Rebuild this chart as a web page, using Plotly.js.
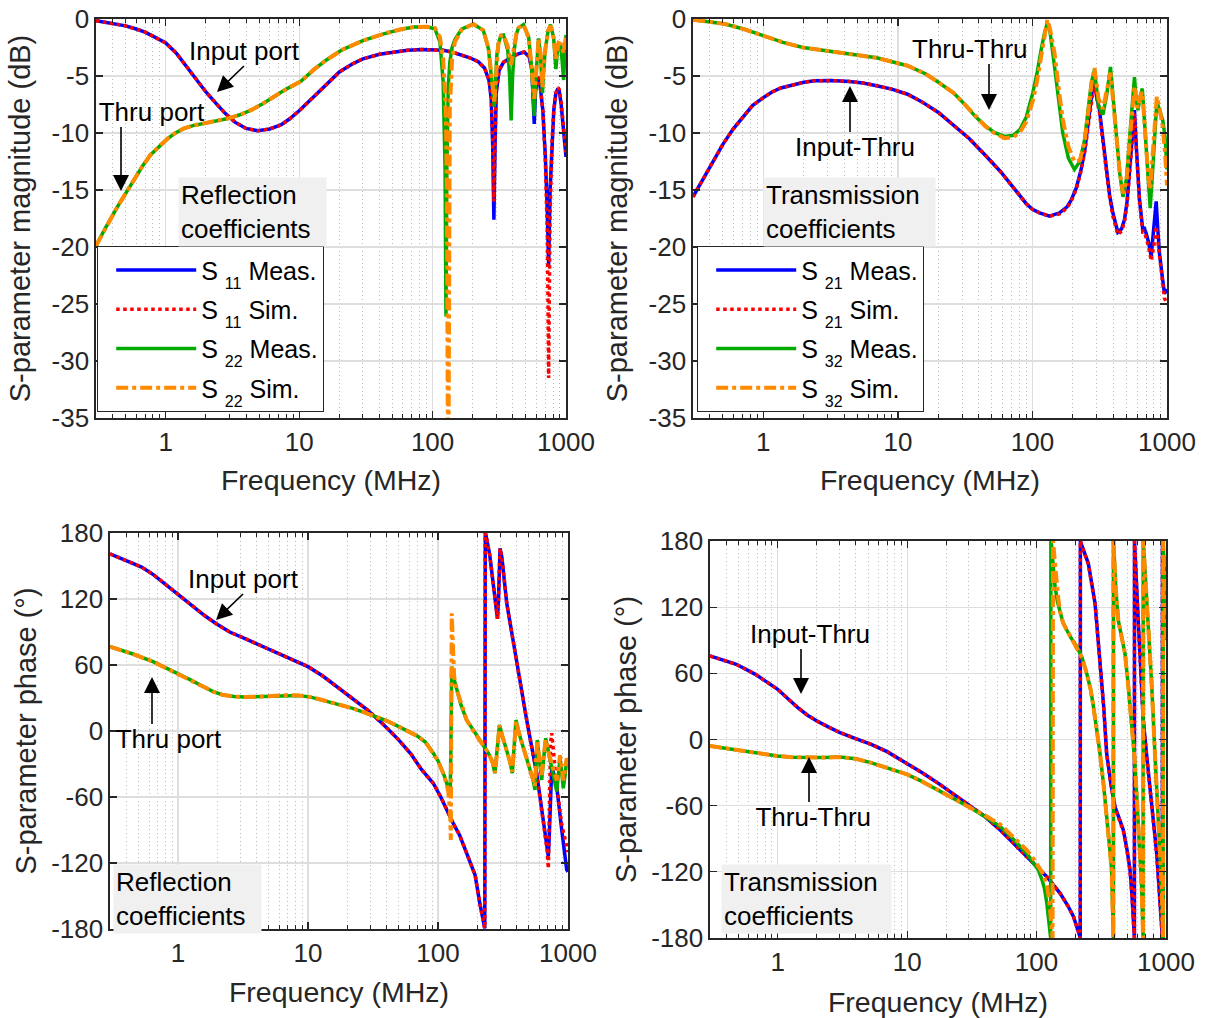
<!DOCTYPE html>
<html>
<head>
<meta charset="utf-8">
<script src="https://cdn.plot.ly/plotly-3.0.1.min.js"></script>
<style>
  html, body { margin: 0; padding: 0; background: #fff; }
  #chart { width: 1205px; height: 1018px; }
</style>
</head>
<body>
<div id="chart"></div>
<script>
// ---------- Data: frequency in MHz, magnitude in dB, phase in degrees ----------

// Reflection magnitude
const fMag11 = [0.3,0.4,0.5,0.6,0.7,0.8,1,1.2,1.4,1.6, 1.8,2,2.4,2.8,3.3,4,4.9,6,7.3,8.5, 10,12,14,17,20,25,30,40,52,65, 83,100,120,140,160,190,220,245,265,275, 282,288,294,300,315,340,385,440,485,530, 555,568,578,590,605,623,645,670,700,725, 741,760,785,810,840,870,890,920,950,975, 1000];
const s11MagMeas = [-0.15,-0.4,-0.6,-0.88,-1.15,-1.5,-2.1,-3.0,-4.05,-4.95, -5.8,-6.4,-7.45,-8.3,-9.05,-9.6,-9.8,-9.65,-9.3,-8.75, -8.05,-7.2,-6.4,-5.45,-4.65,-3.95,-3.5,-3.1,-2.87,-2.75, -2.68,-2.68,-2.75,-2.9,-3.1,-3.4,-3.75,-4.3,-5.4,-7.0, -11.0,-17.6,-11.0,-6.5,-4.5,-3.8,-3.4,-3.05,-2.9,-3.3, -4.5,-6.5,-9.2,-6.5,-5.4,-5.1,-6.2,-8.0,-12.0,-17.0, -21.7,-15.0,-10.5,-8.0,-6.5,-6.1,-6.3,-7.5,-9.3,-10.8, -12.1];
const s11MagSim = [-0.15,-0.4,-0.6,-0.88,-1.15,-1.5,-2.1,-3.0,-4.05,-4.95, -5.8,-6.4,-7.45,-8.3,-9.05,-9.6,-9.8,-9.65,-9.3,-8.75, -8.05,-7.2,-6.4,-5.45,-4.65,-3.95,-3.5,-3.1,-2.87,-2.75, -2.68,-2.68,-2.75,-2.9,-3.1,-3.4,-3.75,-4.3,-5.3,-6.8, -10.5,-16.0,-10.5,-6.4,-4.5,-3.8,-3.4,-3.05,-2.9,-3.3, -4.4,-6.0,-7.2,-6.0,-5.3,-5.1,-6.2,-8.0,-12.5,-19.0, -31.5,-17.0,-10.8,-8.0,-6.5,-6.0,-6.2,-7.3,-9.0,-10.5, -11.7];

const fMag22 = [0.3,0.35,0.433,0.5,0.578,0.67,0.771,0.9,1.03,1.2, 1.37,1.6,1.83,2.3,2.99,3.6,4.35,5.3,6.5,8, 10.35,13,16,21,30,43,58,73,90,104, 113.5,120,124,126,128,131,134.6,140,147,165, 202,240,262,275,284,290,296,303,311,325, 340,366,378,388,398,409,425,440,480,525, 553,568,578,588,598,623,645,660,667,675, 698,735,765,807,825,840,860,880,917,940, 960,980,1000];
const s22MagMeas = [-19.9,-18.4,-16.5,-15.3,-14.1,-12.9,-11.9,-11.1,-10.5,-9.95, -9.6,-9.35,-9.2,-9.0,-8.7,-8.4,-8.0,-7.45,-6.8,-6.15, -5.45,-4.4,-3.6,-2.7,-1.9,-1.3,-0.9,-0.7,-0.68,-0.85, -2.0,-5.5,-13.0,-26.1,-13.0,-6.0,-3.8,-2.5,-1.8,-0.9, -0.44,-1.0,-2.6,-4.6,-6.5,-7.7,-5.5,-3.2,-2.2,-1.45, -1.4,-2.75,-5.0,-8.9,-5.0,-2.75,-1.3,-0.8,-0.5,-1.6, -4.4,-6.5,-8.5,-6.0,-4.4,-1.7,-3.3,-5.2,-6.5,-5.0, -2.75,-1.0,-0.5,-1.6,-2.8,-4.4,-3.0,-2.1,-2.4,-3.8, -5.35,-3.0,-1.4];
const s22MagSim = [-19.9,-18.4,-16.5,-15.3,-14.1,-12.9,-11.9,-11.1,-10.5,-9.95, -9.6,-9.35,-9.2,-9.0,-8.7,-8.4,-8.0,-7.45,-6.8,-6.15, -5.45,-4.4,-3.6,-2.7,-1.9,-1.3,-0.9,-0.7,-0.68,-0.8, -1.6,-3.5,-6.5,-9.0,-15.0,-45.0,-8.0,-3.5,-2.0,-0.95, -0.44,-1.0,-2.5,-4.4,-6.2,-7.4,-5.5,-3.2,-2.2,-1.45, -1.4,-2.4,-3.4,-4.0,-3.2,-2.2,-1.3,-0.8,-0.5,-1.6, -4.0,-5.8,-7.0,-5.5,-4.2,-1.7,-3.1,-4.8,-6.0,-4.8, -2.75,-1.0,-0.6,-1.6,-2.6,-3.5,-2.8,-2.1,-2.2,-2.8, -3.0,-2.2,-1.5];

// Transmission magnitude
const fMag21 = [0.3,0.35,0.428,0.5,0.596,0.7,0.83,1,1.16,1.35, 1.61,2,2.4,3.2,4.36,5.5,6.94,9,11.8,15, 20,26,34,45,58,70,80,90,100,113, 134,159,180,194,212,230,245,258,270,280, 289,300,315,333,353,375,396,431,460,483, 505,526,550,573,590,610,625,661,680,700, 730,763,800,831,855,880,920,958,1000];
const s21MagMeas = [-15.6,-14.2,-12.3,-11.0,-9.65,-8.6,-7.6,-6.9,-6.4,-6.05, -5.8,-5.55,-5.42,-5.4,-5.48,-5.62,-5.85,-6.15,-6.6,-7.25, -8.2,-9.3,-10.5,-12.0,-13.4,-14.6,-15.4,-16.2,-16.7,-17.0, -17.3,-17.0,-16.5,-15.9,-14.8,-13.2,-11.5,-9.4,-7.5,-6.0, -5.35,-6.8,-8.0,-10.5,-13.0,-15.5,-17.0,-18.7,-18.4,-17.6, -16.0,-13.5,-10.5,-8.0,-11.0,-14.5,-15.9,-18.5,-18.4,-18.8, -19.6,-20.8,-18.5,-16.0,-18.5,-20.6,-22.5,-24.1,-23.7];
const s21MagSim = [-15.6,-14.2,-12.3,-11.0,-9.65,-8.6,-7.6,-6.9,-6.4,-6.05, -5.8,-5.55,-5.42,-5.4,-5.48,-5.62,-5.85,-6.15,-6.6,-7.25, -8.2,-9.3,-10.5,-12.0,-13.4,-14.6,-15.4,-16.2,-16.7,-17.0, -17.3,-17.1,-16.6,-16.0,-14.9,-13.3,-11.6,-9.5,-7.6,-6.1, -5.4,-6.9,-8.2,-10.7,-13.2,-15.7,-17.3,-18.9,-18.6,-17.8, -16.2,-13.8,-10.8,-8.3,-11.2,-14.6,-16.0,-18.7,-18.7,-19.2, -20.0,-21.2,-19.8,-18.2,-19.5,-20.8,-22.8,-24.5,-25.0];

const fMag32 = [0.3,0.4,0.52,0.7,1.01,1.4,1.97,3,4.36,6.94, 11.8,16,20,26,32,38,44.5,52,62,72, 80.7,90,100.5,108,116,123,129,135,146,157, 168,185,205,225,244,262,275,289,310,334, 358,380,400,420,445,471,500,526,550,573, 590,608,632,655,680,700,725,750,790,840, 880,931,970,1000];
const s32MagMeas = [-0.06,-0.25,-0.44,-0.85,-1.46,-2.05,-2.5,-2.8,-3.0,-3.4, -4.1,-4.8,-5.55,-6.5,-7.6,-8.6,-9.35,-9.95,-10.3,-10.2, -9.7,-8.6,-6.5,-4.8,-2.7,-1.2,-0.38,-1.1,-4.2,-7.5, -10.0,-12.2,-13.2,-12.5,-10.6,-7.5,-5.5,-4.5,-7.6,-8.4, -6.5,-4.2,-7.0,-10.0,-13.5,-15.6,-14.0,-10.6,-7.5,-5.1, -7.0,-8.0,-6.8,-6.1,-9.0,-11.5,-14.5,-16.6,-12.5,-7.25, -8.0,-8.9,-10.5,-13.2];
const s32MagSim = [-0.06,-0.25,-0.44,-0.85,-1.46,-2.05,-2.5,-2.8,-3.0,-3.4, -4.1,-4.8,-5.55,-6.5,-7.6,-8.6,-9.4,-10.0,-10.45,-10.35, -9.95,-9.0,-7.2,-5.5,-3.2,-1.4,-0.05,-0.9,-3.0,-6.2, -8.8,-11.2,-12.5,-12.4,-10.8,-7.8,-5.6,-4.3,-7.0,-7.9, -6.0,-4.7,-7.5,-10.2,-13.4,-15.3,-14.2,-11.0,-7.9,-5.9, -7.2,-7.8,-6.8,-6.4,-9.0,-11.3,-13.8,-15.0,-11.0,-6.8, -7.8,-9.5,-12.0,-14.6];

// Reflection phase
const fPh11 = [0.3,0.4,0.525,0.65,0.79,1,1.27,1.6,1.97,2.5, 3.28,4.3,5.65,7.5,10,13,16.6,22,28.6,38, 49.6,62,74.6,92,105,131,147,166,193,210, 222,229,231,234,250,265,280,287,292,300, 310,338,403,481,574,646,690,706,718,735, 750,780,819,895,977,1000];
const s11PhMeas = [161,155,149,142,134,124,114,105,97.5,90, 84,78,72,65.5,58.5,50,40.4,30,19.3,6, -7.8,-21,-35,-47.5,-60,-84,-95,-111,-131,-157, -170,-179.5,180,178,160,138,112,102,120,166, 158,116,61.5,10,-38.5,-81,-105,-114,-95,-50, -32.5,-40,-50.6,-90,-126,-128];
const s11PhSim = [161,155,149,142,134,124,114,105,97.5,90, 84,78,72,65.5,58.5,50,40.4,30,19.3,6, -7.8,-21,-35,-47.5,-60,-84,-95,-111,-131,-157, -170,-179.5,180,178,160,138,112,102,120,166, 158,116,61.5,10,-38.5,-81,-108,-125,-70,-10, -2,-25,-50,-85,-108,-110];

const fPh22 = [0.3,0.45,0.643,0.8,1,1.25,1.56,1.85,2.19,2.7, 3.28,4.3,5.65,7,8.5,10.5,12.7,16,21.8,27, 32.8,40,49.6,60,69.8,80,88.5,100,112,120, 124,125.5,127.5,133,139,150,166,185,210,244, 262,274,285,297,315,338,356,373,385,398, 420,453,500,540,557,568,580,600,628,650, 674,710,750,785,819,845,867,895,920,950, 977,1000];
const s22PhMeas = [76.6,70,63,57.5,52.5,46.5,40.4,36,33,31.3, 30.8,31.3,32.3,32.6,32.3,30.8,28.4,25.2,20.8,17, 13.3,9.5,4.2,-0.5,-4.8,-10,-17,-27,-41,-52, -60,-20,58.5,47,37.3,24,10,1,-8.2,-20, -28,-38.4,-20,5.5,-6,-17.3,-27,-38.4,-15,10, -2,-14.3,-30,-45,-53.6,-30,-8.2,-25,-44.5,-25, -6.6,-20,-35.5,-45,-55,-40,-25,-38,-52,-40, -26.4,-28];
const s22PhSim = [76.6,70,63,57.5,52.5,46.5,40.4,36,33,31.3, 30.8,31.3,32.3,32.6,32.3,30.8,28.4,25.2,20.8,17, 13.3,9.5,4.2,-0.5,-4.8,-10,-17,-27,-41,-55, -75,-99,107,50,38,25,10,1,-8.2,-20, -28,-38,-20,5,-6,-17.3,-27,-37,-15,9, -2,-14.3,-30,-44,-50,-28,-8.5,-24,-40,-22, -8,-20,-30,-35,-45,-35,-22,-33,-45,-35, -25,-27];

// Transmission phase
const fPh21 = [0.3,0.479,0.673,1,1.2,1.43,1.7,2.01,2.5,3.03, 4,5.23,7,10,13,17.9,23,30.9,40,53.3, 65,80.4,100,120,152,175,193,205,214,217.5, 218,223,251,283,309,330,348,375,404,435, 468,500,527,545,559,570,571,580,593,610, 629,667,710,751,800,847,890,926,938,939, 951,970,1000];
const s21PhMeas = [75.7,68.2,59.1,45.5,37,28.9,22,16.8,11,6.2, 0.8,-4.2,-11,-21.8,-30,-40.7,-50,-60.3,-70,-83, -93,-104,-115,-124.4,-139.5,-151,-160.7,-169,-177,-180, 180,176.4,159.8,123.5,72,30,-12.5,-40,-61,-72, -82,-100,-118,-140,-163.7,-180,180,160,138.6,108, 78,17.7,-15,-42.8,-73,-103,-140,-172.7,-180,180, 169,155,133];
const s21PhSim = [75.7,68.2,59.1,45.5,37,28.9,22,16.8,11,6.2, 0.8,-4.2,-11,-21.8,-30,-40.7,-50,-60.3,-70,-83, -93,-104,-115,-124.4,-139.5,-151,-160.7,-169,-177,-180, 180,176,159,123,71,29,-13,-41,-62,-73, -83,-101,-119,-141,-164,-180,180,159,138,107, 77,17,-16,-43,-74,-104,-141,-173,-180,180, 168,154,132];

const fPh32Meas = [0.3,0.673,1,1.3,1.75,2.3,3.02,4,5.23,7, 10,13,17.9,23,30.9,40,52.4,62,74.8,85, 94.6,103,110,115,120,124,127,128.5,129,131, 135,139,145,152,160,171,185,205,225,244, 262,275,292,309,330,348,365,380,387,391, 392,392.5,395,410,428,455,482,510,543,570, 593,620,648,660,665,667,690,730,775,821, 870,925,945,950,951,970,1000];
const s32PhMeas = [-5.9,-12,-15,-16,-16.5,-16.4,-15.9,-17.5,-21,-25.5, -31.6,-38,-46.7,-53,-61.8,-70,-79,-87,-97,-104, -112,-118,-127,-135,-148.5,-162,-176,-180,180,175, 155,138.6,125,114.4,106,99.3,92,84.2,74,60, 45,29.8,10,-12.5,-42,-67,-95,-118,-150,-176, -180,180,172,135,108,92,78,50,17.7,-15, -49,-90,-133.5,-165,-180,180,150,108,50,-12.5, -70,-133.5,-170,-180,180,140,90];
const fPh32Sim = [0.3,0.673,1,1.3,1.75,2.3,3.02,4,5.23,7, 10,13,17.9,23,30.9,40,52.4,62,74.8,85, 94.6,103,110,115,120,125,129,132,133,134, 137,141,147,152,160,171,185,205,225,244, 262,275,292,309,330,348,365,380,387,391, 392,392.5,395,410,428,455,482,510,543,570, 593,620,648,660,665,667,690,730,775,821, 870,925,945,950,951,970,1000];
const s32PhSim = [-5.9,-12,-15,-16,-16.5,-16.4,-15.9,-17.5,-21,-25.5, -31.6,-38,-46.7,-53,-61.5,-69,-77,-85,-95,-101, -108,-114,-120,-126,-132,-145,-160,-175,-180,180, 165,145,128,116,106,99.3,92,84.2,74,60, 45,29.8,10,-12.5,-42,-67,-95,-118,-150,-176, -180,180,172,135,108,92,78,50,17.7,-15, -49,-90,-133.5,-165,-180,180,150,108,50,-12.5, -70,-133.5,-170,-180,180,140,90];

// Axis ticks
const freqTicks = [1, 10, 100, 1000];
const freqTickText = ['1', '10', '100', '1000'];
const freqMinor = [0.3,0.4,0.5,0.6,0.7,0.8,0.9, 2,3,4,5,6,7,8,9, 20,30,40,50,60,70,80,90, 200,300,400,500,600,700,800,900];
const magTicks = [-35, -30, -25, -20, -15, -10, -5, 0];
const magTickText = ['-35', '-30', '-25', '-20', '-15', '-10', '-5', '0'];
const phaseTicks = [-180, -120, -60, 0, 60, 120, 180];
const phaseTickText = ['-180', '-120', '-60', '0', '60', '120', '180'];

// Legend entry names: port indices set as lowered, smaller digits
const SUB = '<span style="font-size:16px;baseline-shift:-9px">';
const names = {
  s11m: 'S ' + SUB + '11</span> Meas.', s11s: 'S ' + SUB + '11</span> Sim.',
  s22m: 'S ' + SUB + '22</span> Meas.', s22s: 'S ' + SUB + '22</span> Sim.',
  s21m: 'S ' + SUB + '21</span> Meas.', s21s: 'S ' + SUB + '21</span> Sim.',
  s32m: 'S ' + SUB + '32</span> Meas.', s32s: 'S ' + SUB + '32</span> Sim.'
};

// ---------- Styling ----------
const W = 1205, H = 1018;
const FONT = '"Liberation Sans", Arial, Helvetica, sans-serif';
const INK = '#262626';
const px = x => x / W;          // horizontal pixel -> paper fraction
const py = y => 1 - y / H;      // vertical pixel -> paper fraction

const LINE = {
  meas1: {color: '#0000ff', width: 3.5, dash: 'solid'},
  sim1:  {color: '#ff0000', width: 3.5, dash: 'dot'},
  meas2: {color: '#00aa00', width: 3.5, dash: 'solid'},
  sim2:  {color: '#ff8a00', width: 4,   dash: 'dashdot'}
};

function series(f, v, name, style, n, legend) {
  const t = {
    type: 'scatter', mode: 'lines', x: f, y: v, name: name,
    line: Object.assign({}, LINE[style]),
    xaxis: 'x' + (n === 1 ? '' : n), yaxis: 'y' + (n === 1 ? '' : n),
    hoverinfo: 'skip'
  };
  if (legend) { t.legend = legend; t.legendgroup = legend + name; }
  else { t.showlegend = false; }
  return t;
}

function freqAxis(domain, anchor, standoff) {
  return {
    domain: domain, anchor: anchor, type: 'log',
    range: [Math.log10(0.3), 3],
    tickmode: 'array', tickvals: freqTicks, ticktext: freqTickText,
    ticks: 'inside', ticklen: 7, tickwidth: 1.2, tickcolor: INK,
    showline: true, linecolor: INK, linewidth: 1.6, mirror: 'ticks',
    showgrid: true, gridcolor: '#dedede', gridwidth: 1.2, zeroline: false,
    minor: {
      tickmode: 'array', tickvals: freqMinor,
      ticks: 'inside', ticklen: 4, tickwidth: 1, tickcolor: INK,
      showgrid: true, gridcolor: '#b8b8b8', gridwidth: 1, griddash: '1px,3px'
    },
    tickfont: {family: FONT, size: 26, color: INK},
    title: {text: 'Frequency (MHz)', font: {family: FONT, size: 28.5, color: INK}, standoff: standoff}
  };
}

function valueAxis(domain, anchor, range, vals, text, title, standoff) {
  return {
    domain: domain, anchor: anchor, range: range,
    tickmode: 'array', tickvals: vals, ticktext: text,
    ticks: 'inside', ticklen: 7, tickwidth: 1.2, tickcolor: INK,
    showline: true, linecolor: INK, linewidth: 1.6, mirror: 'ticks',
    showgrid: true, gridcolor: '#dedede', gridwidth: 1.2, zeroline: false,
    tickfont: {family: FONT, size: 26, color: INK},
    title: {text: title, font: {family: FONT, size: 29, color: INK}, standoff: standoff}
  };
}

const traces = [
  series(fMag11, s11MagMeas, names.s11m, 'meas1', 1, 'legend'),
  series(fMag11, s11MagSim,  names.s11s, 'sim1',  1, 'legend'),
  series(fMag22, s22MagMeas, names.s22m, 'meas2', 1, 'legend'),
  series(fMag22, s22MagSim,  names.s22s, 'sim2',  1, 'legend'),

  series(fMag21, s21MagMeas, names.s21m, 'meas1', 2, 'legend2'),
  series(fMag21, s21MagSim,  names.s21s, 'sim1',  2, 'legend2'),
  series(fMag32, s32MagMeas, names.s32m, 'meas2', 2, 'legend2'),
  series(fMag32, s32MagSim,  names.s32s, 'sim2',  2, 'legend2'),

  series(fPh11, s11PhMeas, names.s11m, 'meas1', 3),
  series(fPh11, s11PhSim,  names.s11s, 'sim1',  3),
  series(fPh22, s22PhMeas, names.s22m, 'meas2', 3),
  series(fPh22, s22PhSim,  names.s22s, 'sim2',  3),

  series(fPh21, s21PhMeas, names.s21m, 'meas1', 4),
  series(fPh21, s21PhSim,  names.s21s, 'sim1',  4),
  series(fPh32Meas, s32PhMeas, names.s32m, 'meas2', 4),
  series(fPh32Sim,  s32PhSim,  names.s32s, 'sim2',  4)
];

// ---------- Callouts: label text with its arrow starting at the label edge ----------
// tip = arrow point, tail = where the arrow leaves the label box,
// edge = which side of the label the tail sits on, box/align place the text
function callout(text, tipX, tipY, tailX, tailY, edge, boxWidth, align) {
  const a = {
    xref: 'paper', yref: 'paper', x: px(tipX), y: py(tipY),
    ax: tailX - tipX, ay: tailY - tipY, axref: 'pixel', ayref: 'pixel',
    text: text, showarrow: true, arrowhead: 2, arrowsize: 2, arrowwidth: 1.6,
    arrowcolor: '#000', standoff: 0, startstandoff: 0,
    xanchor: 'center', yanchor: edge, borderpad: 0, borderwidth: 0,
    font: {family: FONT, size: 26, color: '#000'}
  };
  if (boxWidth) { a.width = boxWidth; a.align = align; }
  return a;
}
function box(text, left, top, width) {
  return {xref: 'paper', yref: 'paper', x: px(left), y: py(top), text: text, showarrow: false,
          xanchor: 'left', yanchor: 'top', align: 'left', bgcolor: '#f0f0f0', borderpad: 2,
          width: width, font: {family: FONT, size: 26, color: '#000'}};
}

const annotations = [
  callout('Input port', 217, 92, 244, 66, 'bottom'),
  callout('Thru port', 121, 191, 121, 127, 'bottom', 168, 'right'),
  box('Reflection<br>coefficients', 178, 177, 143),

  callout('Thru-Thru', 989, 110, 989, 64, 'bottom', 154, 'left'),
  callout('Input-Thru', 850, 86, 850, 132, 'top', 130, 'right'),
  box('Transmission<br>coefficients', 763, 177, 167),

  callout('Input port', 216, 620, 243, 594, 'bottom'),
  callout('Thru port', 152, 677, 152, 724, 'top', 140, 'right'),
  box('Reflection<br>coefficients', 113, 864, 143),

  callout('Input-Thru', 801, 694, 801, 649, 'bottom', 138, 'right'),
  callout('Thru-Thru', 809, 757, 809, 802, 'top', 124, 'right'),
  box('Transmission<br>coefficients', 721, 864, 165)
];

function legendBox(left, top) {
  return {x: px(left), y: py(top), xanchor: 'left', yanchor: 'top',
          bgcolor: '#ffffff', bordercolor: INK, borderwidth: 1.2,
          font: {family: FONT, size: 25, color: '#000'},
          itemwidth: 80, indentation: 13, tracegroupgap: 3.8,
          itemclick: false, itemdoubleclick: false};
}

const layout = {
  width: W, height: H, autosize: false,
  margin: {l: 0, r: 0, t: 0, b: 0},
  paper_bgcolor: '#ffffff', plot_bgcolor: '#ffffff',
  font: {family: FONT, color: INK},
  showlegend: true,
  xaxis:  freqAxis([px(96),  px(566)],  'y',  14),
  yaxis:  valueAxis([py(418), py(19)],  'x',  [-35, 0], magTicks, magTickText, 'S-parameter magnitude (dB)', 12),
  xaxis2: freqAxis([px(693), px(1167)], 'y2', 14),
  yaxis2: valueAxis([py(418), py(19)],  'x2', [-35, 0], magTicks, magTickText, 'S-parameter magnitude (dB)', 12),
  xaxis3: freqAxis([px(110), px(568)],  'y3', 15),
  yaxis3: valueAxis([py(929), py(533)], 'x3', [-180, 180], phaseTicks, phaseTickText, 'S-parameter phase (°)', 6),
  xaxis4: freqAxis([px(710), px(1166)], 'y4', 16),
  yaxis4: valueAxis([py(938), py(541)], 'x4', [-180, 180], phaseTicks, phaseTickText, 'S-parameter phase (°)', 6),
  legend:  legendBox(97, 246),
  legend2: legendBox(697, 246),
  annotations: annotations
};

Plotly.newPlot('chart', traces, layout, {staticPlot: true, displayModeBar: false});
</script>
</body>
</html>
